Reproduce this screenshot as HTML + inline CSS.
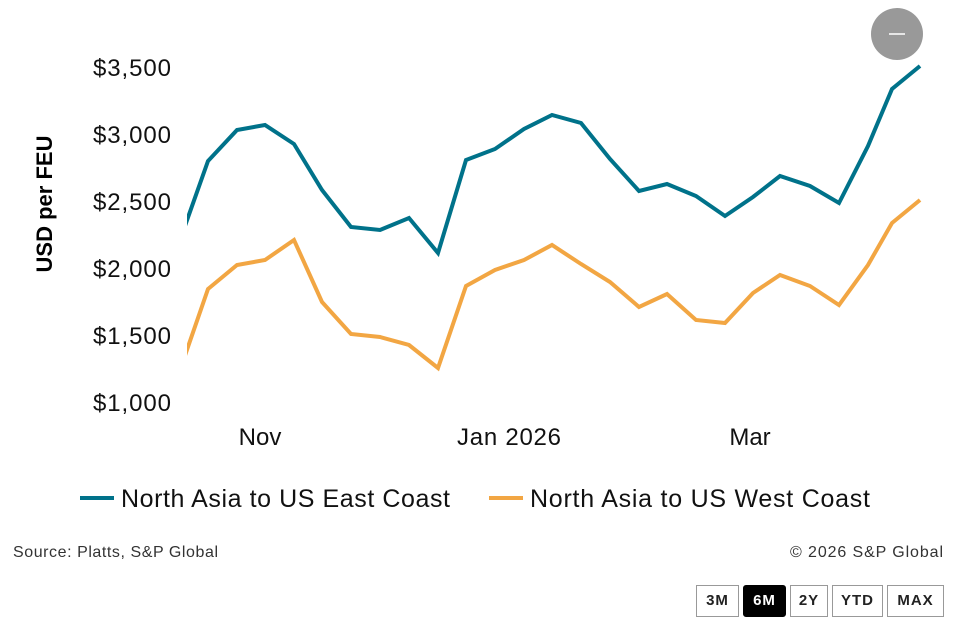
<!DOCTYPE html>
<html><head><meta charset="utf-8"><style>
body{margin:0;background:#fff;width:963px;height:626px;overflow:hidden;font-family:"Liberation Sans",sans-serif}
.btn{position:absolute;top:585px;height:32px;border:1px solid #999;box-sizing:border-box;font-weight:bold;font-size:15px;line-height:30px;text-align:center;color:#222;letter-spacing:1px}
</style></head><body>
<svg width="963" height="626" style="position:absolute;left:0;top:0" font-family="Liberation Sans, sans-serif">
<g font-size="24" fill="#111" text-anchor="end">
<text x="171" y="76" textLength="78">$3,500</text>
<text x="171" y="143" textLength="78">$3,000</text>
<text x="171" y="210" textLength="78">$2,500</text>
<text x="171" y="277" textLength="78">$2,000</text>
<text x="171" y="344" textLength="78">$1,500</text>
<text x="171" y="411" textLength="78">$1,000</text>
</g>
<text transform="translate(52,204) rotate(-90)" font-size="22" font-weight="bold" text-anchor="middle" fill="#000">USD per FEU</text>
<g font-size="24" fill="#111" text-anchor="middle">
<text x="260" y="445">Nov</text>
<text x="509" y="445" textLength="104">Jan 2026</text>
<text x="750" y="445">Mar</text>
</g>
<defs><clipPath id="c"><rect x="187" y="0" width="770" height="420"/></clipPath></defs>
<g clip-path="url(#c)" fill="none" stroke-width="4" stroke-linejoin="miter">
<polyline stroke="#00728a" points="180,240 208,161 237,130 265,125 294,144 322,190 351,227 380,230 409,218 438,253 466,160 495,149 524,129 552,115 581,123 610,159 639,191 667,184 696,196 725,216 753,197 780,176 810,186 839,203 868,146 892,89 920,66"/>
<polyline stroke="#f2a643" points="180,370 208,289 237,265 265,260 294,240 322,302 351,334 380,337 409,345 438,368 466,286 495,270 524,260 552,245 581,264 610,282 639,307 667,294 696,320 725,323 753,293 780,275 810,286 839,305 868,265 892,223 920,200"/>
</g>
<circle cx="897" cy="34" r="26" fill="#999"/>
<line x1="889" y1="34" x2="905" y2="34" stroke="#fff" stroke-width="1.5"/>
<line x1="80" y1="498" x2="114" y2="498" stroke="#00728a" stroke-width="4"/>
<text x="121" y="507" font-size="25" fill="#111" textLength="329">North Asia to US East Coast</text>
<line x1="489" y1="498" x2="523" y2="498" stroke="#f2a643" stroke-width="4"/>
<text x="530" y="507" font-size="25" fill="#111" textLength="340">North Asia to US West Coast</text>
<text x="13" y="557" font-size="16" fill="#333" textLength="205">Source: Platts, S&amp;P Global</text>
<text x="943" y="557" font-size="16" fill="#333" text-anchor="end" textLength="153">© 2026 S&amp;P Global</text>
</svg>
<div class="btn" style="left:696px;width:43px">3M</div>
<div class="btn" style="left:743px;width:43px;background:#000;color:#fff;border-color:#000;border-radius:3px">6M</div>
<div class="btn" style="left:790px;width:38px">2Y</div>
<div class="btn" style="left:832px;width:51px">YTD</div>
<div class="btn" style="left:887px;width:57px">MAX</div>
</body></html>
